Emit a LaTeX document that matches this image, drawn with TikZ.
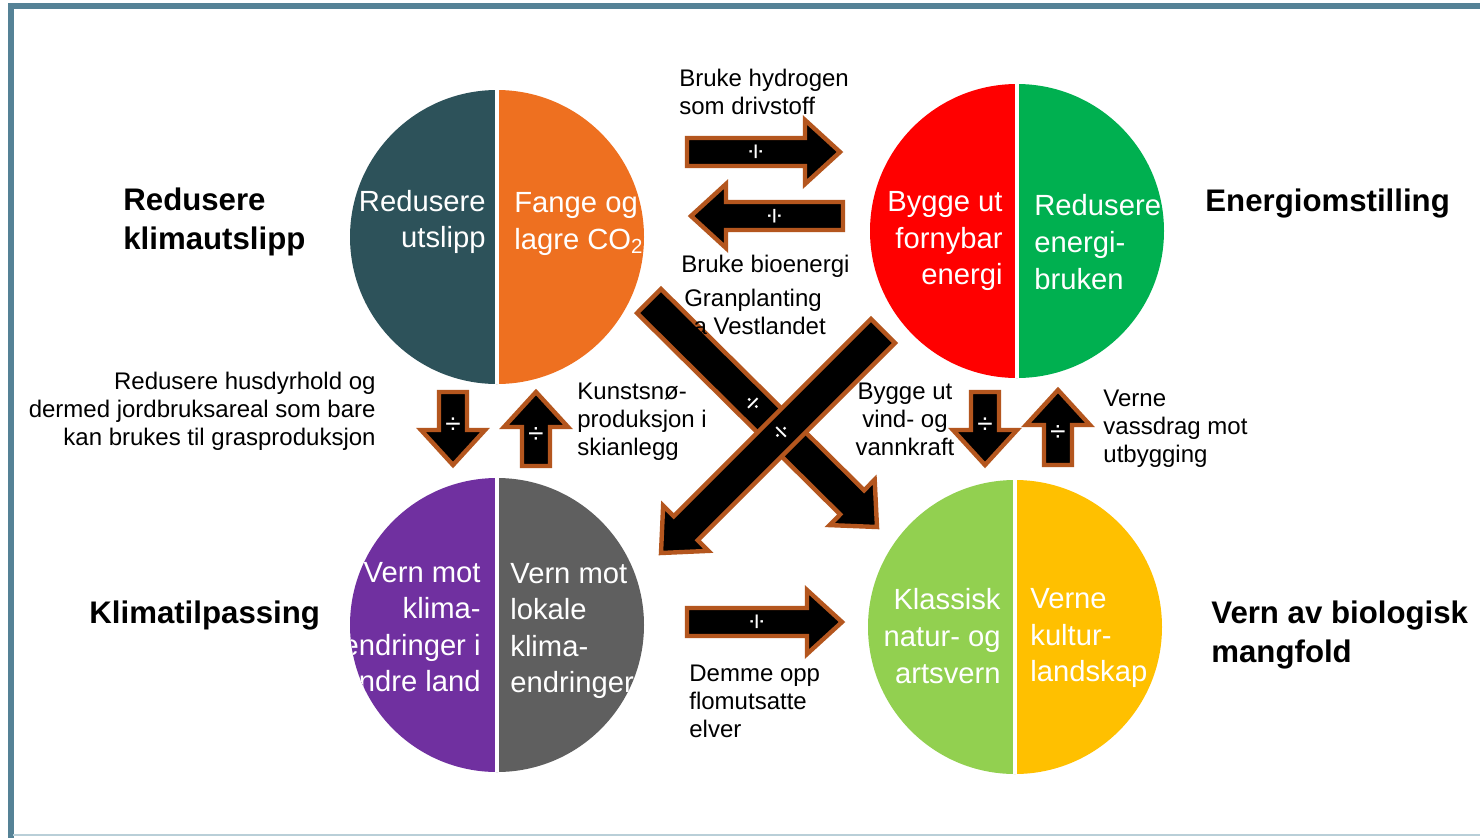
\documentclass[tikz,border=0pt]{standalone}
\usepackage{fontspec}
\setmainfont{Liberation Sans}
\usetikzlibrary{calc}

\definecolor{slate}{HTML}{2D525A}
\definecolor{carrot}{HTML}{EE7020}
\definecolor{signalred}{HTML}{FF0000}
\definecolor{leafgreen}{HTML}{00B050}
\definecolor{plum}{HTML}{7030A0}
\definecolor{stone}{HTML}{5F5F5F}
\definecolor{lime}{HTML}{92D050}
\definecolor{amber}{HTML}{FFC000}
\definecolor{rust}{HTML}{B4561E}
\definecolor{framecol}{HTML}{558296}
\definecolor{framelite}{HTML}{B9CFD8}

\newcommand{\headhalf}{16pt}
\newcommand{\headlen}{17.5pt}

% block arrow from tail #2 to tip #3, shaft half width #1, with the sign turned along it
\newcommand{\blockarrow}[3][7pt]{%
  \coordinate (#2#3neck) at ($(#3)!\headlen!(#2)$);
  \draw[arrowbody] ($(#2)!#1!90:(#3)$) -- ($(#2#3neck)!#1!90:(#3)$)
    -- ($(#2#3neck)!\headhalf!90:(#3)$) -- (#3) -- ($(#2#3neck)!\headhalf!-90:(#3)$)
    -- ($(#2#3neck)!#1!-90:(#3)$) -- ($(#2)!#1!-90:(#3)$) -- cycle;
  \path let \p1=($(#3)-(#2)$) in
    node[divsign, rotate={atan2(\y1,\x1)+90}] at ($(#2)!0.46!(#3)$) {÷};
}

\begin{document}
\begin{tikzpicture}[x=0.5pt,y=-0.5pt,
    disc/.style={circle,minimum size=147pt,inner sep=0pt},
    divider/.style={white,line width=2pt},
    intext/.style={font=\fontsize{14.6}{18.3}\selectfont,text=white,inner sep=0pt},
    title/.style={font=\fontsize{15.6}{19.5}\selectfont\bfseries,align=left,anchor=west,inner sep=0pt},
    note/.style={font=\fontsize{12}{14}\selectfont,inner sep=0pt},
    arrowbody/.style={fill=black,draw=rust,line width=2.2pt,line join=miter},
    divsign/.style={font=\fontsize{14}{14}\selectfont,text=white,inner sep=0pt}]
  \useasboundingbox (0,0) rectangle (1480,837);
  \fill[white] (0,0) rectangle (1480,837);
  \draw[framecol,line width=3pt] (11,845) -- (11,6) -- (1490,6);
  \draw[framelite,line width=1pt] (13,835) -- (1490,835);

  \node[disc] (klima) at (497,237) {};
  \node[disc] (energi) at (1017,231) {};
  \node[disc] (tilpass) at (497,625) {};
  \node[disc] (natur) at (1015,627) {};

  \begin{scope}
    \clip (klima) circle[radius=147];
    \fill[slate] ($(klima)+(-150,-150)$) rectangle ($(klima)+(0,150)$);
    \fill[carrot] ($(klima)+(0,-150)$) rectangle ($(klima)+(150,150)$);
    \node[intext,align=right,anchor=east] (utslipp) at ($(klima)+(-11,-15)$) {Redusere\\utslipp};
    \node[intext,align=left,anchor=west] (fange) at ($(klima)+(17,-13)$) {Fange og\\lagre CO\textsubscript{2}};
  \end{scope}
  \begin{scope}
    \clip (energi) circle[radius=147];
    \fill[signalred] ($(energi)+(-150,-150)$) rectangle ($(energi)+(0,150)$);
    \fill[leafgreen] ($(energi)+(0,-150)$) rectangle ($(energi)+(150,150)$);
    \node[intext,align=right,anchor=east] (fornybar) at ($(energi)+(-14,10)$) {Bygge ut\\fornybar\\energi};
    \node[intext,align=left,anchor=west] (bruken) at ($(energi)+(17,11)$) {Redusere\\energi-\\bruken};
  \end{scope}
  \begin{scope}
    \clip (tilpass) circle[radius=147];
    \fill[plum] ($(tilpass)+(-150,-150)$) rectangle ($(tilpass)+(0,150)$);
    \fill[stone] ($(tilpass)+(0,-150)$) rectangle ($(tilpass)+(150,150)$);
    \node[intext,align=right,anchor=east] (andreland) at ($(tilpass)+(-16,2)$) {Vern mot\\klima-\\endringer i\\andre land};
    \node[intext,align=left,anchor=west] (lokale) at ($(tilpass)+(13,6)$) {Vern mot\\lokale\\klima-\\endringer};
  \end{scope}
  \begin{scope}
    \clip (natur) circle[radius=147];
    \fill[lime] ($(natur)+(-150,-150)$) rectangle ($(natur)+(0,150)$);
    \fill[amber] ($(natur)+(0,-150)$) rectangle ($(natur)+(150,150)$);
    \node[intext,align=right,anchor=east] (artsvern) at ($(natur)+(-14,9)$) {Klassisk\\natur- og\\artsvern};
    \node[intext,align=left,anchor=west] (landskap) at ($(natur)+(15,11)$) {Verne\\kultur-\\landskap};
  \end{scope}
  \foreach \c in {klima,energi,tilpass,natur}
    \draw[divider] (\c.north) -- (\c.south);

  \coordinate (h1) at (687,152);  \coordinate (h2) at (840,152);
  \coordinate (b1) at (843,216);  \coordinate (b2) at (691,216);
  \coordinate (d1) at (453,392);  \coordinate (d2) at (453,465);
  \coordinate (k1) at (536,466);  \coordinate (k2) at (536,392);
  \coordinate (v1) at (985,392);  \coordinate (v2) at (985,465);
  \coordinate (u1) at (1058,465); \coordinate (u2) at (1058,390);
  \coordinate (e1) at (687,622);  \coordinate (e2) at (842,622);
  \coordinate (g1) at (649,301);  \coordinate (g2) at (877,527);
  \coordinate (s1) at (883,331);  \coordinate (s2) at (661,553);
  \blockarrow{h1}{h2}
  \blockarrow{b1}{b2}
  \blockarrow{d1}{d2}
  \blockarrow{k1}{k2}
  \blockarrow{v1}{v2}
  \blockarrow{u1}{u2}
  \blockarrow{e1}{e2}
  \blockarrow[8.5pt]{g1}{g2}
  \blockarrow[8.5pt]{s1}{s2}

  \node[title] (t1) at (123,222) {Redusere\\klimautslipp};
  \node[title] (t2) at (1205,203) {Energiomstilling};
  \node[title] (t3) at (89,615) {Klimatilpassing};
  \node[title] (t4) at (1211,635) {Vern av biologisk\\mangfold};

  \node[note,align=left,anchor=west] (hydrogen) at (679,92) {Bruke hydrogen\\som drivstoff};
  \node[note,align=left,anchor=west] (bio) at (681,266) {Bruke bioenergi};
  \node[note,align=center] (gran) at (753,314) {Granplanting\\pa Vestlandet};
  \node[note,align=left,anchor=west] (snø) at (577,422) {Kunstsnø-\\produksjon i\\skianlegg};
  \node[note,align=center] (vind) at (905,419) {Bygge ut\\vind- og\\vannkraft};
  \node[note,align=left,anchor=west] (vassdrag) at (1103,429) {Verne\\vassdrag mot\\utbygging};
  \node[note,align=left,anchor=west] (demme) at (689,701) {Demme opp\\flomutsatte\\elver};
  \node[note,align=right,anchor=east] (husdyr) at (376,411) {Redusere husdyrhold og\\dermed jordbruksareal som bare\\kan brukes til grasproduksjon};
\end{tikzpicture}
\end{document}
